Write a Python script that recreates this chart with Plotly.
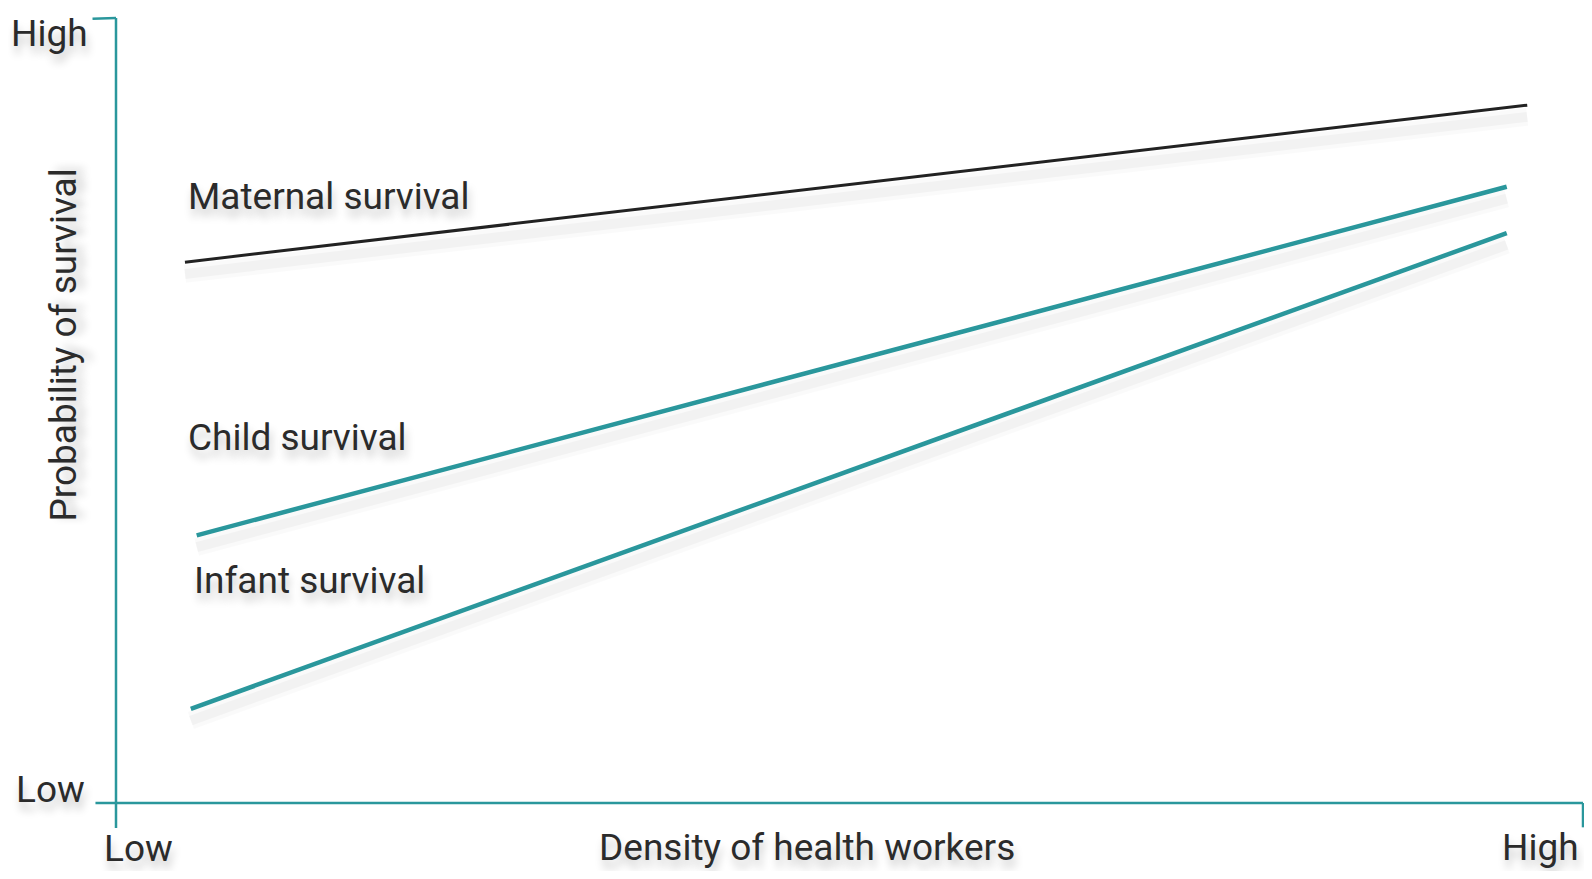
import plotly.graph_objects as go

# Data (normalized 0-100 scale: Low -> High)
series_names = ["Maternal survival", "Child survival", "Infant survival"]
x_start = [4.7, 5.5, 5.1]
x_end = [96.2, 94.8, 94.8]
y_start = [68.9, 34.1, 12.0]
y_end = [88.9, 78.5, 72.6]
series_colors = ["#222222", "#2a979c", "#2a979c"]
series_widths = [3, 4.5, 4.5]

label_x = [0.048, 0.048, 0.052]
label_y = [0.773, 0.466, 0.283]

axis_low_high = ["Low", "High"]
x_title = "Density of health workers"
y_title = "Probability of survival"

FONT = "Roboto, sans-serif"
FS = 37
TXT = "#2b2b2b"
TEAL = "#2a979c"
SHADOW = "2px 8px 8px rgba(0,0,0,0.22)"

fig = go.Figure()

# soft shadows under lines
for i in range(len(series_names)):
    for w, a in [(18, 0.02), (10, 0.03)]:
        fig.add_trace(go.Scatter(
            x=[x_start[i], x_end[i]], y=[y_start[i] - 1.5, y_end[i] - 1.5],
            mode="lines", line=dict(color=f"rgba(0,0,0,{a})", width=w),
            hoverinfo="skip", showlegend=False))

for i, name in enumerate(series_names):
    fig.add_trace(go.Scatter(
        x=[x_start[i], x_end[i]], y=[y_start[i], y_end[i]],
        mode="lines", name=name,
        line=dict(color=series_colors[i], width=series_widths[i]),
        showlegend=False))
    fig.add_annotation(x=label_x[i], y=label_y[i], xref="paper", yref="paper",
                       text=name, showarrow=False, xanchor="left", yanchor="middle",
                       font=dict(family=FONT, size=FS, color=TXT, shadow=SHADOW))


def lab(x, y, text, xanchor, angle=0):
    fig.add_annotation(x=x, y=y, xref="paper", yref="paper", text=text,
                       showarrow=False, xanchor=xanchor, yanchor="middle",
                       textangle=angle,
                       font=dict(family=FONT, size=FS, color=TXT, shadow=SHADOW))


lab(-0.018, 0.980, axis_low_high[1], "right")
lab(-0.020, 0.017, axis_low_high[0], "right")
lab(0.015, -0.058, axis_low_high[0], "center")
lab(0.971, -0.057, axis_low_high[1], "center")
lab(0.471, -0.057, x_title, "center")
lab(-0.036, 0.583, y_title, "center", -90)

# axes drawn as shapes (paper coordinates)
for x0, y0, x1, y1 in [(-0.014, 0, 1.0, 0), (0, -0.032, 0, 1.0),
                       (-0.016, 0.999, 0, 1.0), (1.0, 0, 1.0, -0.031)]:
    fig.add_shape(type="line", xref="paper", yref="paper",
                  x0=x0, y0=y0, x1=x1, y1=y1, line=dict(color=TEAL, width=2.5))

fig.update_xaxes(range=[0, 100], visible=False, fixedrange=True)
fig.update_yaxes(range=[0, 100], visible=False, fixedrange=True)
fig.update_layout(
    width=1576, height=863,
    margin=dict(l=108, r=1, t=10, b=68),
    plot_bgcolor="white", paper_bgcolor="white",
)

fig.write_html("out.html")
